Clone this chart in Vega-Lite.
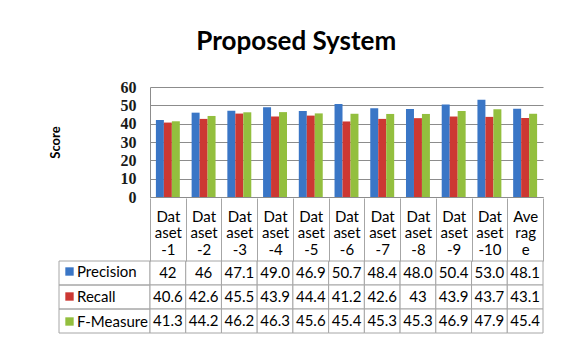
{
  "$schema": "https://vega.github.io/schema/vega-lite/v6.json",
  "background": "white",
  "padding": {"left": 49, "top": 29, "right": 5, "bottom": 5},
  "title": {"text": "Proposed System", "font": "Lato", "fontSize": 26, "fontWeight": "bold", "color": "#000000", "anchor": "middle", "offset": 24},
  "datasets": {
    "scores": [
      {"dataset": "Dataset-1", "metric": "Precision", "value": 42, "shown": "42"},
      {"dataset": "Dataset-2", "metric": "Precision", "value": 46, "shown": "46"},
      {"dataset": "Dataset-3", "metric": "Precision", "value": 47.1, "shown": "47.1"},
      {"dataset": "Dataset-4", "metric": "Precision", "value": 49.0, "shown": "49.0"},
      {"dataset": "Dataset-5", "metric": "Precision", "value": 46.9, "shown": "46.9"},
      {"dataset": "Dataset-6", "metric": "Precision", "value": 50.7, "shown": "50.7"},
      {"dataset": "Dataset-7", "metric": "Precision", "value": 48.4, "shown": "48.4"},
      {"dataset": "Dataset-8", "metric": "Precision", "value": 48.0, "shown": "48.0"},
      {"dataset": "Dataset-9", "metric": "Precision", "value": 50.4, "shown": "50.4"},
      {"dataset": "Dataset-10", "metric": "Precision", "value": 53.0, "shown": "53.0"},
      {"dataset": "Average", "metric": "Precision", "value": 48.1, "shown": "48.1"},
      {"dataset": "Dataset-1", "metric": "Recall", "value": 40.6, "shown": "40.6"},
      {"dataset": "Dataset-2", "metric": "Recall", "value": 42.6, "shown": "42.6"},
      {"dataset": "Dataset-3", "metric": "Recall", "value": 45.5, "shown": "45.5"},
      {"dataset": "Dataset-4", "metric": "Recall", "value": 43.9, "shown": "43.9"},
      {"dataset": "Dataset-5", "metric": "Recall", "value": 44.4, "shown": "44.4"},
      {"dataset": "Dataset-6", "metric": "Recall", "value": 41.2, "shown": "41.2"},
      {"dataset": "Dataset-7", "metric": "Recall", "value": 42.6, "shown": "42.6"},
      {"dataset": "Dataset-8", "metric": "Recall", "value": 43, "shown": "43"},
      {"dataset": "Dataset-9", "metric": "Recall", "value": 43.9, "shown": "43.9"},
      {"dataset": "Dataset-10", "metric": "Recall", "value": 43.7, "shown": "43.7"},
      {"dataset": "Average", "metric": "Recall", "value": 43.1, "shown": "43.1"},
      {"dataset": "Dataset-1", "metric": "F-Measure", "value": 41.3, "shown": "41.3"},
      {"dataset": "Dataset-2", "metric": "F-Measure", "value": 44.2, "shown": "44.2"},
      {"dataset": "Dataset-3", "metric": "F-Measure", "value": 46.2, "shown": "46.2"},
      {"dataset": "Dataset-4", "metric": "F-Measure", "value": 46.3, "shown": "46.3"},
      {"dataset": "Dataset-5", "metric": "F-Measure", "value": 45.6, "shown": "45.6"},
      {"dataset": "Dataset-6", "metric": "F-Measure", "value": 45.4, "shown": "45.4"},
      {"dataset": "Dataset-7", "metric": "F-Measure", "value": 45.3, "shown": "45.3"},
      {"dataset": "Dataset-8", "metric": "F-Measure", "value": 45.3, "shown": "45.3"},
      {"dataset": "Dataset-9", "metric": "F-Measure", "value": 46.9, "shown": "46.9"},
      {"dataset": "Dataset-10", "metric": "F-Measure", "value": 47.9, "shown": "47.9"},
      {"dataset": "Average", "metric": "F-Measure", "value": 45.4, "shown": "45.4"}
    ],
    "metrics": [
      {"metric": "Precision"},
      {"metric": "Recall"},
      {"metric": "F-Measure"}
    ]
  },
  "columns": 2,
  "bounds": "flush",
  "align": "each",
  "spacing": {"row": 64, "column": 0},
  "resolve": {"legend": {"color": "independent"}},
  "config": {"view": {"stroke": null}, "font": "Lato"},
  "concat": [
    {
      "width": 91,
      "height": 110,
      "data": {"values": []},
      "mark": "point",
      "encoding": {}
    },
    {
      "width": 393,
      "height": 110,
      "data": {"name": "scores"},
      "mark": {"type": "bar"},
      "encoding": {
        "x": {
          "field": "dataset", "type": "nominal",
          "sort": ["Dataset-1","Dataset-2","Dataset-3","Dataset-4","Dataset-5","Dataset-6","Dataset-7","Dataset-8","Dataset-9","Dataset-10","Average"],
          "scale": {"paddingInner": 0.33, "paddingOuter": 0.165},
          "axis": {"labels": false, "ticks": false, "title": null, "domainColor": "#8c8c8c", "grid": false}
        },
        "xOffset": {"field": "metric", "type": "nominal", "sort": ["Precision", "Recall", "F-Measure"]},
        "y": {
          "field": "value", "type": "quantitative",
          "scale": {"domain": [0, 60]},
          "axis": {
            "values": [0, 10, 20, 30, 40, 50, 60],
            "title": "Score", "titleFont": "Lato", "titleFontSize": 13, "titleFontWeight": "bold", "titleColor": "#000000", "titlePadding": 58,
            "labelFont": "Liberation Serif", "labelFontSize": 16, "labelFontWeight": "bold", "labelColor": "#1a1a1a", "labelPadding": 14,
            "ticks": false, "domainColor": "#8c8c8c", "gridColor": "#8c8c8c", "gridOpacity": 1
          }
        },
        "color": {
          "field": "metric", "type": "nominal",
          "scale": {"domain": ["Precision", "Recall", "F-Measure"], "range": ["#3A76C6", "#CC3833", "#93BF3E"]},
          "legend": null
        }
      }
    },
    {
      "width": 91,
      "height": 72,
      "data": {"name": "metrics"},
      "mark": {"type": "rect", "stroke": "#a6a6a6", "strokeWidth": 1, "fillOpacity": 0},
      "encoding": {
        "y": {"field": "metric", "type": "nominal", "sort": ["Precision", "Recall", "F-Measure"], "axis": null},
        "color": {
          "field": "metric", "type": "nominal",
          "scale": {"domain": ["Precision", "Recall", "F-Measure"], "range": ["#3A76C6", "#CC3833", "#93BF3E"]},
          "legend": {
            "orient": "top-left", "offset": 3, "padding": 0, "title": null,
            "symbolType": "square", "symbolSize": 70, "symbolStrokeWidth": 0,
            "labelFont": "Lato", "labelFontSize": 15, "labelColor": "#000000", "labelOffset": 0,
            "rowPadding": 9,
            "encode": {"symbols": {"update": {"fillOpacity": {"value": 1}, "opacity": {"value": 1}, "strokeWidth": {"value": 0}}}}
          }
        }
      }
    },
    {
      "width": 393,
      "height": 72,
      "data": {"name": "scores"},
      "encoding": {
        "x": {
          "field": "dataset", "type": "nominal",
          "sort": ["Dataset-1","Dataset-2","Dataset-3","Dataset-4","Dataset-5","Dataset-6","Dataset-7","Dataset-8","Dataset-9","Dataset-10","Average"],
          "axis": {
            "orient": "top", "title": null, "domain": false,
            "tickBand": "extent", "tickSize": 63, "tickColor": "#a6a6a6",
            "labelAngle": 0, "labelFont": "Lato", "labelFontSize": 15, "labelColor": "#000000",
            "labelBaseline": "top", "labelPadding": -11, "labelLineHeight": 16.5, "labelAlign": "center",
            "labelExpr": "datum.label == 'Average' ? ['Ave', 'rag', 'e'] : indexof(datum.label + '', 'Dataset') == 0 ? ['Dat', 'aset', replace(datum.label, 'Dataset', '')] : ''"
          }
        },
        "y": {"field": "metric", "type": "nominal", "sort": ["Precision", "Recall", "F-Measure"], "axis": null}
      },
      "layer": [
        {"mark": {"type": "rect", "fill": "white", "stroke": "#a6a6a6", "strokeWidth": 1}},
        {"mark": {"type": "text", "font": "Lato", "fontSize": 15, "color": "#000000"}, "encoding": {"text": {"field": "shown"}}}
      ]
    }
  ]
}
